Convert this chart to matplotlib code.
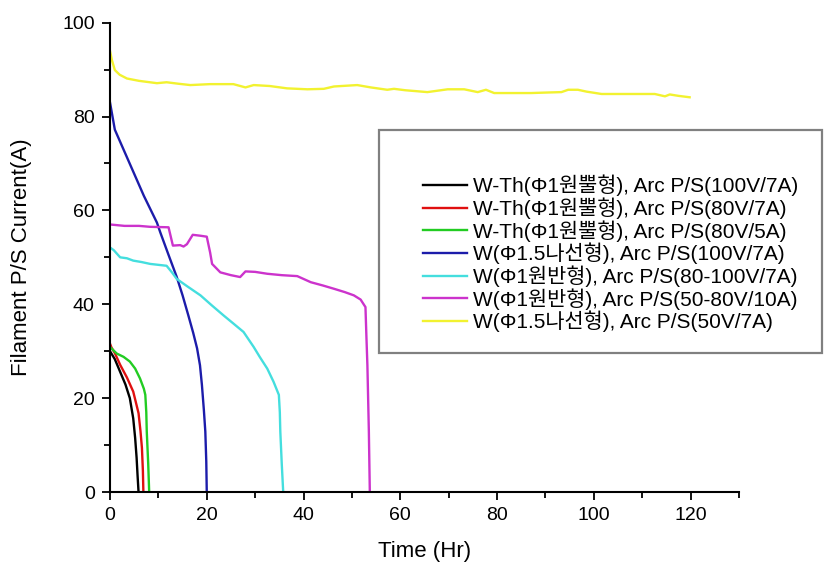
import matplotlib
matplotlib.use("Agg")
import matplotlib.pyplot as plt
from matplotlib.patches import Rectangle
from matplotlib.ticker import MultipleLocator

plt.rcParams['font.family'] = ['Liberation Sans', 'Noto Sans CJK KR']

# Series (time in Hr, current in A)
wth_100_t = [0, 1, 2.1, 3.2, 4.1, 4.8, 5.2, 5.5, 5.7, 5.9]
wth_100_i = [30.0, 28.3, 25.6, 22.9, 20.0, 15.7, 11.5, 7.3, 3.5, 0]

wth_80_t = [0, 0.3, 1, 2.1, 3.5, 4.8, 5.9, 6.3, 6.6, 6.8, 6.9]
wth_80_i = [31.6, 30.8, 29.6, 27.1, 24.4, 21.4, 16.8, 13.0, 9.4, 4.5, 0]

wth_80_5_t = [0, 1.4, 2.8, 4.1, 5.2, 6.2, 7.0, 7.3, 7.5, 7.6, 7.9, 8.1]
wth_80_5_i = [30.9, 29.5, 28.8, 27.8, 26.3, 24.2, 22.0, 20.7, 17.0, 12.9, 6.0, 0]

w15_100_t = [0, 1, 3, 5, 7, 9.7, 10.4, 12, 13.8, 15, 16.2, 17.2, 18, 18.6, 19, 19.4, 19.7, 19.9, 20.0]
w15_100_i = [83.0, 77.2, 72.5, 67.8, 63.1, 57.4, 55.3, 50.8, 45.8, 41.9, 37.6, 33.9, 30.6, 27.0, 22.8, 17.5, 12.9, 6.5, 0]

w1_80100_t = [0, 0.8, 2.1, 3.5, 4.8, 6.5, 8.3, 10, 11.7, 12.8, 13.8, 16, 18.7, 21, 23.5, 25.5, 27.6, 29.7, 31, 32.5, 33.8, 34.9, 35.1, 35.2, 35.5, 35.8]
w1_80100_i = [52.1, 51.5, 50.0, 49.8, 49.3, 49.0, 48.6, 48.4, 48.2, 46.8, 45.4, 43.8, 41.9, 39.8, 37.6, 35.9, 34.1, 30.9, 28.7, 26.3, 23.5, 20.7, 17.0, 12.9, 6.0, 0]

w1_5080_t = [0, 3, 6, 8.3, 12.1, 13.0, 14.5, 15.2, 15.9, 17.1, 18.7, 20.0, 20.7, 21.1, 22.8, 25, 26.9, 28.0, 30, 32.5, 35.5, 38.7, 41.5, 44, 46.3, 48.5, 50.4, 51.8, 52.8, 53.0, 53.2, 53.5, 53.7]
w1_5080_i = [57.0, 56.7, 56.7, 56.5, 56.4, 52.5, 52.6, 52.3, 52.8, 54.8, 54.6, 54.4, 51.0, 48.6, 46.8, 46.2, 45.8, 47.0, 46.9, 46.5, 46.2, 46.0, 44.7, 44.0, 43.3, 42.6, 41.9, 41.0, 39.4, 33.0, 27.0, 13.0, 0]

w15_50_t = [0, 0.4, 1, 2, 3.5, 6, 9.7, 11.7, 14, 16.6, 20.7, 25.5, 28, 29.7, 33, 36.6, 40.8, 44.2, 46.3, 51.1, 53.9, 57.3, 58.7, 61, 65.6, 69.8, 73.2, 76, 77.7, 79.4, 83, 87, 90, 93.3, 94.7, 96.7, 98.5, 101.6, 105, 109, 112.6, 114.7, 115.7, 117.5, 119.8]
w15_50_i = [94.0, 92.0, 89.9, 88.9, 88.1, 87.6, 87.1, 87.3, 87.0, 86.7, 86.9, 86.9, 86.2, 86.7, 86.5, 86.0, 85.8, 85.9, 86.4, 86.7, 86.2, 85.7, 85.9, 85.6, 85.2, 85.8, 85.8, 85.2, 85.7, 85.0, 85.0, 85.0, 85.1, 85.2, 85.7, 85.7, 85.3, 84.8, 84.8, 84.8, 84.8, 84.3, 84.7, 84.4, 84.1]

labels = [
    'W-Th(Φ1원뿔형), Arc P/S(100V/7A)',
    'W-Th(Φ1원뿔형), Arc P/S(80V/7A)',
    'W-Th(Φ1원뿔형), Arc P/S(80V/5A)',
    'W(Φ1.5나선형), Arc P/S(100V/7A)',
    'W(Φ1원반형), Arc P/S(80-100V/7A)',
    'W(Φ1원반형), Arc P/S(50-80V/10A)',
    'W(Φ1.5나선형), Arc P/S(50V/7A)',
]
colors = ['#000000', '#e01010', '#22cc22', '#1c1caa', '#44dede', '#cc33cc', '#f2f230']

series = [
    (wth_100_t, wth_100_i),
    (wth_80_t, wth_80_i),
    (wth_80_5_t, wth_80_5_i),
    (w15_100_t, w15_100_i),
    (w1_80100_t, w1_80100_i),
    (w1_5080_t, w1_5080_i),
    (w15_50_t, w15_50_i),
]

fig = plt.figure(figsize=(8.39, 5.66), dpi=100)
ax = fig.add_axes([0.1311, 0.1307, 0.7497, 0.8293])

for (t, i), c, lab in zip(series, colors, labels):
    ax.plot(t, i, color=c, lw=1.7, label=lab)

ax.set_xlim(0, 130)
ax.set_ylim(0, 100)
ax.xaxis.set_major_locator(MultipleLocator(20))
ax.xaxis.set_minor_locator(MultipleLocator(10))
ax.yaxis.set_major_locator(MultipleLocator(20))
ax.yaxis.set_minor_locator(MultipleLocator(10))
ax.set_xticks([0, 20, 40, 60, 80, 100, 120])
ax.tick_params(which='major', direction='out', length=6, width=1.3, labelsize=14, pad=5)
ax.tick_params(which='minor', direction='out', length=4, width=1.3)
for side in ['top', 'right']:
    ax.spines[side].set_visible(False)
for side in ['left', 'bottom']:
    ax.spines[side].set_linewidth(1.5)

ax.set_xlabel('Time (Hr)', fontsize=16, labelpad=12)
ax.set_ylabel('Filament P/S Current(A)', fontsize=16, labelpad=22)

# legend frame sits partly outside the axes
fig.patches.append(Rectangle((0.4517, 0.3763), 0.528, 0.394, transform=fig.transFigure,
                             fill=False, edgecolor='#808080', lw=1.6))
fig.legend(loc='center left', bbox_to_anchor=(0.492, 0.552), frameon=False,
           fontsize=15, borderpad=0, handlelength=2.1, handletextpad=0.3,
           labelspacing=0.05)

fig.savefig('out.png', dpi=100)
